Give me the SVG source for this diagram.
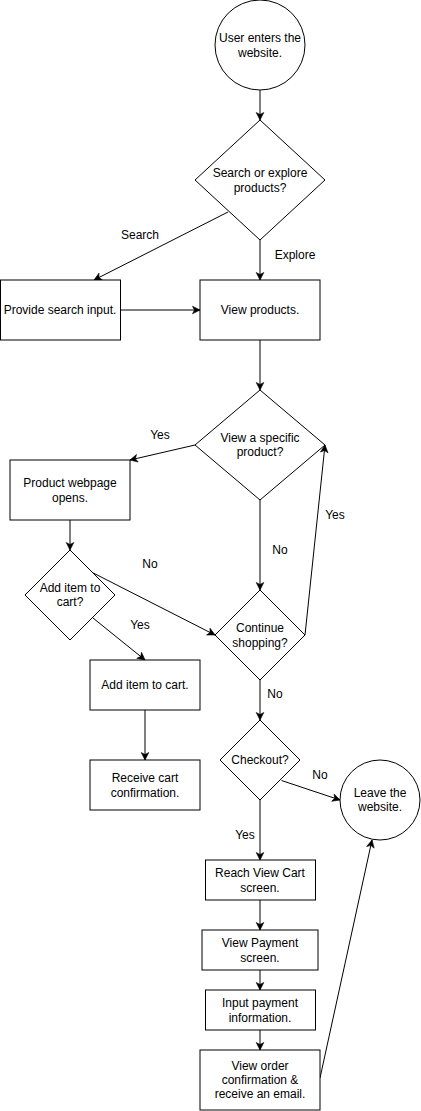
<svg xmlns="http://www.w3.org/2000/svg" width="421" height="1111" viewBox="0 0 421 1111">
<style>
.n{fill:#fff;stroke:#000;stroke-width:1}
.t{font-family:"Liberation Sans",Arial,Helvetica,sans-serif;font-size:12px;fill:#000;text-anchor:middle;dominant-baseline:central}
.e{fill:none;stroke:#000;stroke-width:1;marker-end:url(#a)}
</style>
<defs>
<marker id="a" markerUnits="userSpaceOnUse" markerWidth="10" markerHeight="10" viewBox="0 0 10 10" refX="8" refY="5" orient="auto">
<path d="M0.5,1.2 L8,5 L0.5,8.8 L2.5,5 Z" fill="#000" stroke="#000" stroke-width="0.6"/>
</marker>
</defs>
<rect width="421" height="1111" fill="#fff"/>
<g id="connectors">
<path class="e" d="M260,90 L260,120"/>
<path class="e" d="M228,212 L94,280"/>
<path class="e" d="M260,240 L260,280"/>
<path class="e" d="M120,310 L200,310"/>
<path class="e" d="M260,340 L260,390"/>
<path class="e" d="M195,445 L130,460"/>
<path class="e" d="M260,500 L260,590"/>
<path class="e" d="M70,520 L70,550"/>
<path class="e" d="M93.3,573 L215,635"/>
<path class="e" d="M93,618 L145,660"/>
<path class="e" d="M305,635 L325,445"/>
<path class="e" d="M145,710 L145,760"/>
<path class="e" d="M260,680 L260,720"/>
<path class="e" d="M281.5,780.5 L340,800"/>
<path class="e" d="M260,800 L260,860"/>
<path class="e" d="M260,900 L260,930"/>
<path class="e" d="M260,970 L260,990"/>
<path class="e" d="M260,1030 L260,1050"/>
<path class="e" d="M320,1078 L372,840"/>
<text class="t" x="140" y="235">Search</text>
<text class="t" x="295" y="255">Explore</text>
<text class="t" x="160" y="435">Yes</text>
<text class="t" x="280" y="550">No</text>
<text class="t" x="150" y="564">No</text>
<text class="t" x="335" y="515">Yes</text>
<text class="t" x="140" y="625">Yes</text>
<text class="t" x="275" y="694">No</text>
<text class="t" x="320" y="775">No</text>
<text class="t" x="245" y="835">Yes</text>
</g>
<g id="start">
<circle class="n" cx="260" cy="45" r="45"/>
<text class="t" x="260" y="38">User enters the</text>
<text class="t" x="260" y="53">website.</text>
</g>
<g id="searchOrExplore">
<path class="n" d="M260,120 L325,180 L260,240 L195,180 Z"/>
<text class="t" x="260" y="173">Search or explore</text>
<text class="t" x="260" y="188">products?</text>
</g>
<g id="searchInput">
<rect class="n" x="0.5" y="280" width="120" height="60"/>
<text class="t" x="60" y="310">Provide search input.</text>
</g>
<g id="viewProducts">
<rect class="n" x="200" y="280" width="120" height="60"/>
<text class="t" x="260" y="310">View products.</text>
</g>
<g id="viewSpecific">
<path class="n" d="M260,390 L325,445 L260,500 L195,445 Z"/>
<text class="t" x="260" y="438">View a specific</text>
<text class="t" x="260" y="452">product?</text>
</g>
<g id="productPage">
<rect class="n" x="10" y="460" width="120" height="60"/>
<text class="t" x="70" y="483">Product webpage</text>
<text class="t" x="70" y="498">opens.</text>
</g>
<g id="addItemQ">
<path class="n" d="M70,550 L115,595 L70,640 L25,595 Z"/>
<text class="t" x="70" y="588">Add item to</text>
<text class="t" x="70" y="602">cart?</text>
</g>
<g id="continueShopping">
<path class="n" d="M260,590 L305,635 L260,680 L215,635 Z"/>
<text class="t" x="260" y="628">Continue</text>
<text class="t" x="260" y="643">shopping?</text>
</g>
<g id="addItem">
<rect class="n" x="90" y="660" width="110" height="50"/>
<text class="t" x="145" y="685">Add item to cart.</text>
</g>
<g id="cartConfirm">
<rect class="n" x="90" y="760" width="110" height="50"/>
<text class="t" x="145" y="778">Receive cart</text>
<text class="t" x="145" y="793">confirmation.</text>
</g>
<g id="checkout">
<path class="n" d="M260,720 L300,760 L260,800 L220,760 Z"/>
<text class="t" x="260" y="760">Checkout?</text>
</g>
<g id="leave">
<circle class="n" cx="380" cy="800" r="40"/>
<text class="t" x="380" y="793">Leave the</text>
<text class="t" x="380" y="807">website.</text>
</g>
<g id="viewCart">
<rect class="n" x="205.5" y="860" width="110" height="40"/>
<text class="t" x="260" y="873">Reach View Cart</text>
<text class="t" x="260" y="888">screen.</text>
</g>
<g id="viewPayment">
<rect class="n" x="202" y="930" width="116" height="40"/>
<text class="t" x="260" y="943">View Payment</text>
<text class="t" x="260" y="958">screen.</text>
</g>
<g id="inputPayment">
<rect class="n" x="205.5" y="990" width="110" height="40"/>
<text class="t" x="260" y="1003">Input payment</text>
<text class="t" x="260" y="1018">information.</text>
</g>
<g id="orderConfirm">
<rect class="n" x="200" y="1050" width="120" height="60"/>
<text class="t" x="260" y="1066">View order</text>
<text class="t" x="260" y="1080">confirmation &amp;</text>
<text class="t" x="260" y="1094">receive an email.</text>
</g>
</svg>
